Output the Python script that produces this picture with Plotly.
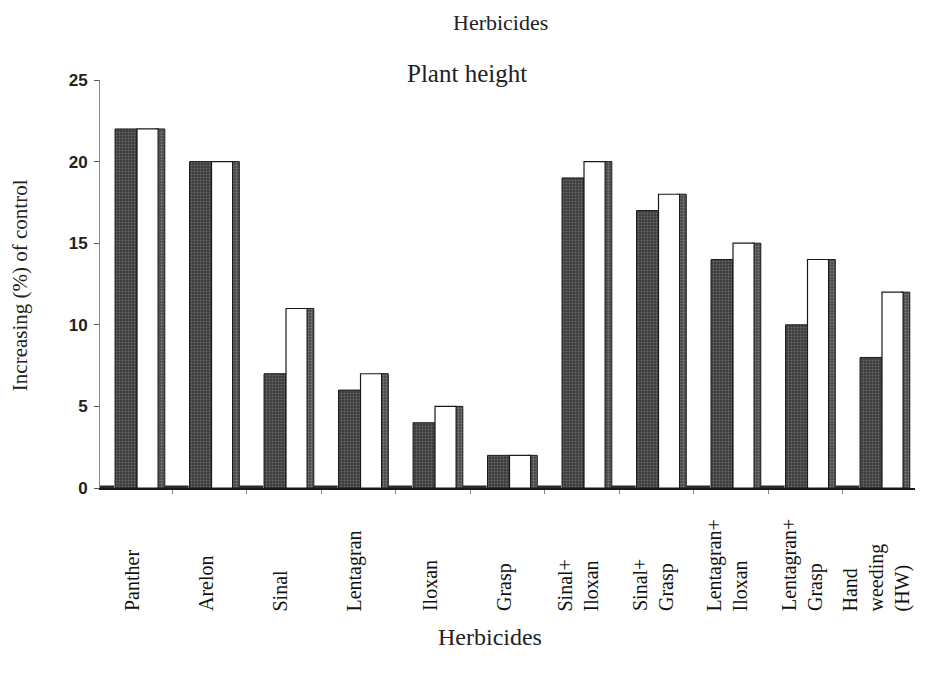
import plotly.graph_objects as go

categories = ["Panther", "Arelon", "Sinal", "Lentagran", "Iloxan", "Grasp",
              "Sinal+<br>Iloxan", "Sinal+<br>Grasp", "Lentagran+<br>Iloxan",
              "Lentagran+<br>Grasp", "Hand<br>weeding<br>(HW)"]
control = [0, 0, 0, 0, 0, 0, 0, 0, 0, 0, 0]
series_dark = [22, 20, 7, 6, 4, 2, 19, 17, 14, 10, 8]
series_white = [22, 20, 11, 7, 5, 2, 20, 18, 15, 14, 12]
y_ticks = [0, 5, 10, 15, 20, 25]

xs = list(range(len(categories)))
SERIF = "Liberation Serif"

fig = go.Figure()

# control (zero) slabs
sx, sy = [], []
for i, v in zip(xs, control):
    sx += [i - 0.48, i - 0.16, None]
    sy += [v, v, None]
fig.add_trace(go.Scatter(x=sx, y=sy, mode="lines",
                         line=dict(color="#2a2a2a", width=5),
                         hoverinfo="skip", showlegend=False))

pattern = dict(shape=".", fgcolor="#9a9a9a", bgcolor="#3a3a3a", size=3, solidity=0.35)

fig.add_trace(go.Bar(x=xs, y=series_dark, offset=-0.148, width=0.295,
                     marker=dict(color="#3a3a3a", pattern=pattern,
                                 line=dict(color="#1a1a1a", width=1)),
                     showlegend=False))
# side face of white bars (3D look)
fig.add_trace(go.Bar(x=xs, y=series_white, offset=0.40, width=0.12,
                     marker=dict(color="#555555", pattern=dict(shape=".", fgcolor="#b0b0b0",
                                                               bgcolor="#4a4a4a", size=3, solidity=0.35),
                                 line=dict(color="#1a1a1a", width=1)),
                     showlegend=False))
fig.add_trace(go.Bar(x=xs, y=series_white, offset=0.147, width=0.283,
                     marker=dict(color="white", line=dict(color="#1a1a1a", width=1.2)),
                     showlegend=False))

fig.update_layout(
    width=931, height=677,
    margin=dict(l=92, r=24, t=72, b=197),
    paper_bgcolor="white", plot_bgcolor="white",
    barmode="overlay",
    xaxis=dict(range=[-0.35, 10.59], showgrid=False, zeroline=False,
               showline=True, linecolor="#1a1a1a", linewidth=2,
               tickmode="linear", tick0=0.62, dtick=1, ticks="outside",
               ticklen=4, tickcolor="#888", showticklabels=False),
    yaxis=dict(range=[0, 25], tickvals=y_ticks, showgrid=False, zeroline=False,
               showline=True, linecolor="#888", linewidth=1,
               ticks="outside", ticklen=5, tickcolor="#555",
               tickfont=dict(family="Liberation Sans", size=17, color="#222", weight="bold"),
               ticklabelstandoff=3),
    font=dict(family=SERIF, color="#222"),
    shapes=[
        dict(type="rect", xref="paper", yref="paper", x0=1.012, x1=1.022,
             y0=-0.6, y1=1.3, fillcolor="#e4e4e4", line=dict(width=0), layer="above"),
        dict(type="rect", xref="paper", yref="paper", x0=1.022, x1=1.04,
             y0=-0.6, y1=1.3, fillcolor="#cdcdcd", line=dict(width=0), layer="above"),
    ],
)

annotations = [
    dict(text="Herbicides", x=0.491, y=1.14, xref="paper", yref="paper",
         xanchor="center", yanchor="middle",
         showarrow=False, font=dict(family=SERIF, size=22, color="#222")),
    dict(text="Plant height", x=0.45, y=1.017, xref="paper", yref="paper",
         xanchor="center", yanchor="middle",
         showarrow=False, font=dict(family=SERIF, size=25, color="#222")),
    dict(text="Increasing (%) of control", x=-0.098, y=0.4975, xref="paper", yref="paper",
         xanchor="center", yanchor="middle",
         textangle=-90, showarrow=False, font=dict(family=SERIF, size=21, color="#222")),
    dict(text="Herbicides", x=0.479, y=-0.365, xref="paper", yref="paper",
         xanchor="center", yanchor="middle",
         showarrow=False, font=dict(family=SERIF, size=24, color="#222")),
]
for i, c in zip(xs, categories):
    annotations.append(dict(text=c, x=i + 0.07, y=-0.307, xref="x", yref="paper",
                            xanchor="center", yanchor="bottom", textangle=-90,
                            align="left", showarrow=False,
                            font=dict(family=SERIF, size=20, color="#111")))
fig.update_layout(annotations=annotations)

fig.write_html("out.html")
